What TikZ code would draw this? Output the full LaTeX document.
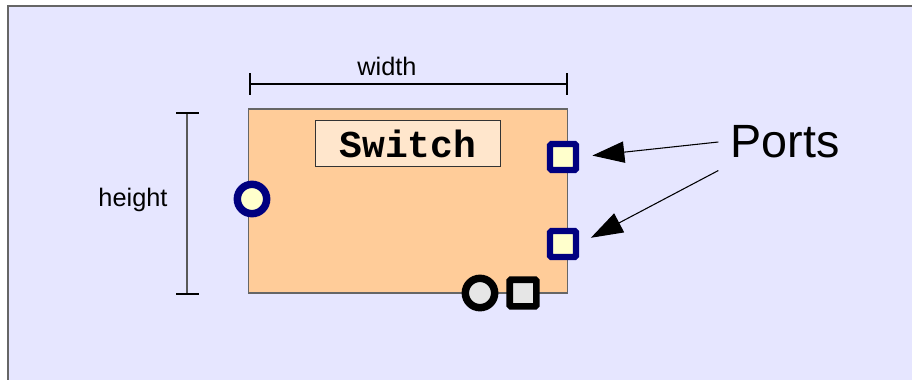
\documentclass[tikz,border=0pt]{standalone}
\usepackage{fontspec}
\setmainfont{Liberation Sans}
\newfontfamily\codefont{Liberation Mono}
\usetikzlibrary{arrows.meta, positioning}

\definecolor{canvas}{HTML}{E6E6FF}
\definecolor{peach}{HTML}{FFCC99}
\definecolor{peachlight}{HTML}{FFE6CC}
\definecolor{portblue}{HTML}{000080}
\definecolor{portfill}{HTML}{FFFFCC}
\definecolor{pinfill}{HTML}{E6E6E6}

\begin{document}
\begin{tikzpicture}[
    x=0.75pt, y=-0.75pt,
    frame/.style={draw=black!60, line width=1.1pt, fill=canvas},
    block/.style={draw=black!60, line width=1pt, fill=peach, inner sep=0pt,
                  minimum width=239pt, minimum height=137.8pt},
    tagbox/.style={draw=black!80, line width=0.7pt, fill=peachlight,
                   minimum width=139pt, minimum height=34pt, inner sep=0pt,
                   font=\codefont\bfseries\fontsize{28.5}{28.5}\selectfont},
    sqport/.style={draw=portblue, line width=4.6pt, fill=portfill,
                   rounded corners=1pt, minimum size=19.5pt, inner sep=0pt},
    ciport/.style={circle, draw=portblue, line width=5.6pt, fill=portfill,
                   minimum size=22pt, inner sep=0pt},
    sqpin/.style={draw=black, line width=5pt, fill=pinfill,
                  rounded corners=1pt, minimum size=20pt, inner sep=0pt},
    cipin/.style={circle, draw=black, line width=5.6pt, fill=pinfill,
                  minimum size=22pt, inner sep=0pt},
    dimline/.style={line width=0.8pt},
    dimtick/.style={line width=2.2pt},
    lbl/.style={font=\fontsize{19}{19}\selectfont, inner sep=0pt, anchor=base},
    pointer/.style={line width=0.8pt, -{Triangle[length=24pt, width=16pt]},
                    shorten >=10pt}
]

% ---------- canvas ----------
\useasboundingbox (0,0) rectangle (912,379);
\draw[frame] (8,6) rectangle (940,400);

% ---------- block ----------
\node[block] (switchbox) at (408,201) {};
\node[tagbox, below=9pt of switchbox.north] (tag) {Switch};

% ---------- ports ----------
\node[sqport] (portA) at (563,157) {};
\node[sqport] (portB) at (563,244) {};
\node[ciport] (portC) at (252,199) {};
\node[cipin]  (pinA)  at (480,293) {};
\node[sqpin]  (pinB)  at (523,293) {};

% ---------- dimensions ----------
\draw[dimline] (250,84) -- (567,84);
\foreach \u in {250,567}
  \draw[dimtick] (\u,73) -- (\u,95);
\draw[dimline, black!65] (187,113) -- (187,294);
\foreach \v in {113,294}
  \draw[dimtick] (176,\v) -- (199,\v);
\node[lbl] (wlbl) at (387,75)  {width};
\node[lbl] (hlbl) at (133,206) {height};

% ---------- callout ----------
\node[font=\fontsize{35}{35}\selectfont, inner sep=9pt] (ports) at (785,142) {Ports};
\draw[pointer] (ports.west) -- (portA.east);
\draw[pointer] (ports.south west) -- (portB.east);

\end{tikzpicture}
\end{document}
